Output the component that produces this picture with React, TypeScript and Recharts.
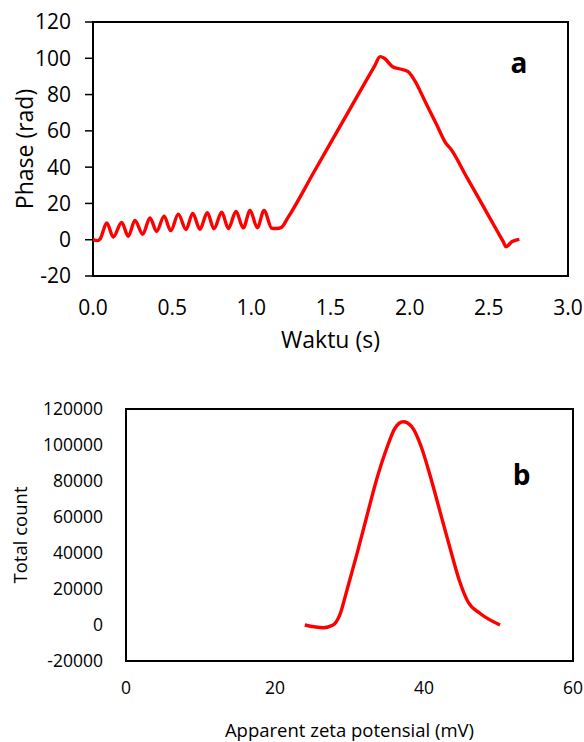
import React from 'react';
import { LineChart, Line, XAxis, YAxis, ReferenceArea, ReferenceDot, Label } from 'recharts';

// Chart a: phase vs time
const timeS = [0, 0.03, 0.045, 0.087, 0.128, 0.181, 0.223, 0.265, 0.314, 0.36, 0.402, 0.449, 0.491, 0.539, 0.587, 0.63, 0.675, 0.722, 0.764, 0.813, 0.855, 0.903, 0.949, 0.992, 1.038, 1.08, 1.13, 1.16, 1.19, 1.23, 1.4, 1.6, 1.78, 1.813, 1.84, 1.89, 1.94, 1.99, 2.03, 2.1, 2.17, 2.23, 2.26, 2.35, 2.45, 2.55, 2.59, 2.609, 2.645, 2.693];
const phaseRad = [0, -0.5, 0.5, 9.2, 1.5, 9.5, 1.9, 10.6, 3.0, 12.0, 4.6, 13.0, 5.0, 14.1, 5.6, 14.5, 5.8, 14.9, 6.0, 15.1, 6.2, 15.6, 6.5, 16.1, 6.6, 16.1, 6.3, 6.2, 6.8, 12, 38, 68.5, 96, 100.9, 100, 95.5, 94.1, 92.6, 88, 75.8, 63.5, 53, 50, 36.1, 20.7, 5.2, -0.9, -3.9, -1.1, 0.2];
const phaseTicksX = [0, 0.5, 1, 1.5, 2, 2.5, 3];
const phaseTicksY = [-20, 0, 20, 40, 60, 80, 100, 120];

// Chart b: total count vs apparent zeta potential
const zetaMv = [24.0, 26.5, 27.8, 28.7, 29.6, 31.0, 32.3, 33.65, 35.0, 36.1, 37.2, 38.35, 39.7, 40.8, 42.15, 43.5, 44.8, 45.9, 47.5, 50.2];
const totalCount = [0, -1500, 0, 5600, 18500, 39500, 60000, 81000, 98200, 109300, 112900, 110200, 98200, 83300, 63000, 42600, 24000, 12900, 6500, 0];
const zetaTicksX = [0, 20, 40, 60];
const countTicksY = [-20000, 0, 20000, 40000, 60000, 80000, 100000, 120000];

const phaseData = timeS.map((t, i) => ({ t, p: phaseRad[i] }));
const zetaData = zetaMv.map((z, i) => ({ z, c: totalCount[i] }));

const FONT = '"Open Sans", sans-serif';

export default function App() {
  return (
    <div style={{ position: 'absolute', left: 0, top: 0, width: 584, height: 742, background: '#fff' }}>
      <div style={{ position: 'absolute', left: 0, top: 0 }}>
        <LineChart width={584} height={360} data={phaseData} margin={{ top: 22, right: 16, bottom: 0, left: 0 }}>
          <XAxis
            dataKey="t"
            type="number"
            domain={[0, 3]}
            ticks={phaseTicksX}
            interval={0}
            tickFormatter={(v: number) => v.toFixed(1)}
            axisLine={false}
            tickLine={false}
            tickSize={0}
            tickMargin={24}
            height={84}
            tick={{ fill: '#000', fontSize: 21, fontFamily: FONT }}
          >
            <Label value="Waktu (s)" position="center" dy={22} style={{ fontSize: 23, fontFamily: FONT, fill: '#000' }} />
          </XAxis>
          <YAxis
            type="number"
            domain={[-20, 120]}
            ticks={phaseTicksY}
            interval={0}
            width={93}
            axisLine={false}
            tickLine={{ stroke: '#000', strokeWidth: 1.5 }}
            tickSize={8}
            tickMargin={14}
            tick={{ fill: '#000', fontSize: 21, fontFamily: FONT }}
          >
            <Label value="Phase (rad)" angle={-90} position="center" dx={-21.5} style={{ fontSize: 23, fontFamily: FONT, fill: '#000' }} />
          </YAxis>
          <ReferenceArea x1={0} x2={3} y1={-20} y2={120} fill="none" fillOpacity={0} stroke="#000" strokeWidth={2} ifOverflow="visible" />
          <Line dataKey="p" type="monotone" stroke="#FF0000" strokeWidth={3.4} dot={false} isAnimationActive={false} />
          <ReferenceDot
            x={2.69}
            y={97.5}
            r={0}
            fill="none"
            stroke="none"
            ifOverflow="visible"
            label={{ value: 'a', position: 'center', style: { fontSize: 28, fontWeight: 700, fontFamily: FONT, fill: '#000' } }}
          />
        </LineChart>
      </div>
      <div style={{ position: 'absolute', left: 0, top: 380 }}>
        <LineChart width={584} height={362} data={zetaData} margin={{ top: 29, right: 11, bottom: 0, left: 0 }}>
          <XAxis
            dataKey="z"
            type="number"
            domain={[0, 60]}
            ticks={zetaTicksX}
            interval={0}
            axisLine={false}
            tickLine={false}
            tickSize={0}
            tickMargin={21}
            height={81}
            tick={{ fill: '#000', fontSize: 17.5, fontFamily: FONT }}
          >
            <Label value="Apparent zeta potensial (mV)" position="center" dy={29} style={{ fontSize: 18.5, fontFamily: FONT, fill: '#000' }} />
          </XAxis>
          <YAxis
            type="number"
            domain={[-20000, 120000]}
            ticks={countTicksY}
            interval={0}
            width={126}
            axisLine={false}
            tickLine={false}
            tickSize={0}
            tickMargin={23}
            tick={{ fill: '#000', fontSize: 17.5, fontFamily: FONT }}
          >
            <Label value="Total count" angle={-90} position="center" dx={-43} style={{ fontSize: 18.5, fontFamily: FONT, fill: '#000' }} />
          </YAxis>
          <ReferenceArea x1={0} x2={60} y1={-20000} y2={120000} fill="none" fillOpacity={0} stroke="#000" strokeWidth={2} ifOverflow="visible" />
          <Line dataKey="c" type="monotone" stroke="#FF0000" strokeWidth={3.4} dot={false} isAnimationActive={false} />
          <ReferenceDot
            x={53.1}
            y={83333}
            r={0}
            fill="none"
            stroke="none"
            ifOverflow="visible"
            label={{ value: 'b', position: 'center', style: { fontSize: 28, fontWeight: 700, fontFamily: FONT, fill: '#000' } }}
          />
        </LineChart>
      </div>
    </div>
  );
}
